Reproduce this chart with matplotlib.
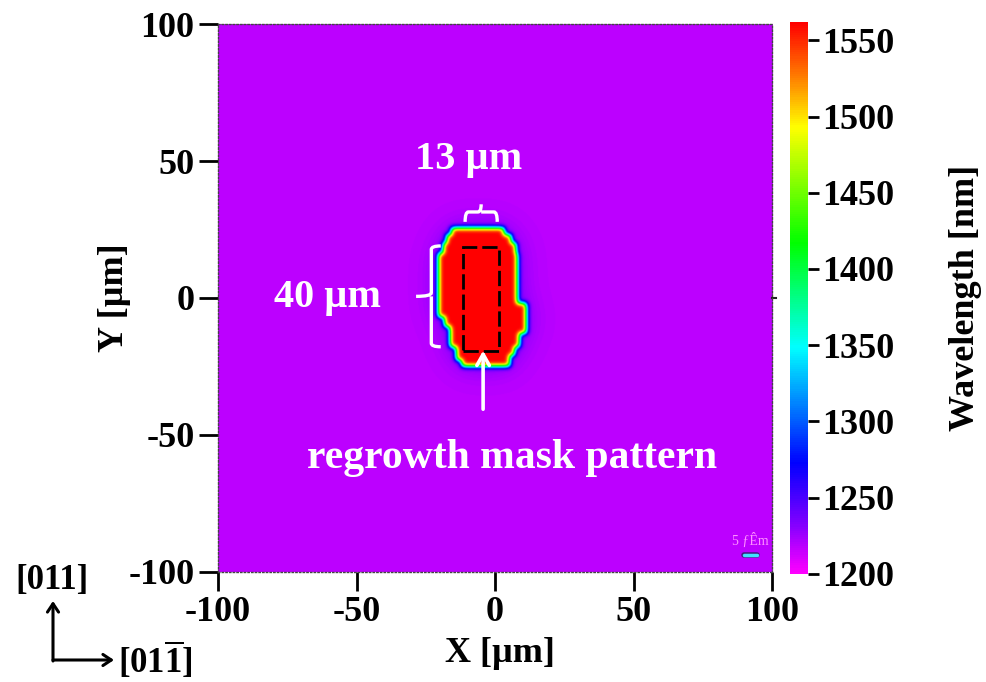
import numpy as np
import matplotlib
matplotlib.use("Agg")
import matplotlib.pyplot as plt
from matplotlib.colors import LinearSegmentedColormap
from matplotlib.path import Path
from matplotlib.patches import PathPatch, Rectangle, FancyArrowPatch
import matplotlib.patheffects as pe

plt.rcParams['font.family'] = ['Liberation Serif', 'DejaVu Serif']
plt.rcParams['font.weight'] = 'bold'
plt.rcParams['mathtext.fontset'] = 'custom'
plt.rcParams['mathtext.rm'] = 'Liberation Serif:bold'
plt.rcParams['mathtext.bf'] = 'Liberation Serif:bold'

# PL peak wavelength map [nm]
bg_wl = 1218
peak_wl = 1562
halo_wl = 18
wl_min, wl_max = 1200, 1562
cbar_ticks = [1200, 1250, 1300, 1350, 1400, 1450, 1500, 1550]
axis_ticks = [-100, -50, 0, 50, 100]

# regrown island outline, horizontal slices [um]
slice_top = [25.5, 23.0, 20.0, 16.4, -1.9, -6.8, -10.5, -12.9, -17.8, -20.9, -22.6]
slice_bot = [23.0, 20.0, 16.4, -1.9, -6.8, -10.5, -12.9, -17.8, -20.9, -22.6, -25.0]
slice_left = [-15.8, -17.6, -18.8, -20.5, -20.5, -18.3, -16.4, -16.4, -14.0, -14.0, -12.2]
slice_right = [3.2, 5.6, 7.4, 7.9, 11.0, 11.0, 11.0, 8.6, 6.8, 5.0, 5.0]

# mask pattern (13 um x 40 um)
mask_x = [-11.4, 1.4]
mask_y = [-19.2, 18.5]

# colormap nodes
cm_pos = [0.0, 0.09, 0.20, 0.41, 0.60, 0.81, 0.90, 1.0]
cm_col = ['#ff00ff', '#8000ff', '#0000ff', '#00ffff', '#00ff00', '#ffff00', '#ff8000', '#ff0000']
cmap = LinearSegmentedColormap.from_list('pl', list(zip(cm_pos, cm_col)))

# build map
step = 0.25
g = np.arange(-100, 100 + step / 2, step)
X, Y = np.meshgrid(g, g)
blob = np.zeros_like(X)
for t, b, l, r in zip(slice_top, slice_bot, slice_left, slice_right):
    blob[(Y <= t) & (Y > b) & (X >= l) & (X <= r)] = 1.0


def blur(a, sigma):
    n = int(4 * sigma / step)
    k = np.exp(-0.5 * (np.arange(-n, n + 1) * step / sigma) ** 2)
    k /= k.sum()
    a = np.apply_along_axis(lambda v: np.convolve(v, k, mode='same'), 0, a)
    a = np.apply_along_axis(lambda v: np.convolve(v, k, mode='same'), 1, a)
    return a


sharp = blur(blob, 0.9)
wide = blur(blob, 5.0)
wl = bg_wl + halo_wl * np.clip(wide * 1.5, 0, 1) * (1 - sharp) + (peak_wl - bg_wl) * sharp

fig = plt.figure(figsize=(9.86, 6.82), dpi=100)
ax = fig.add_axes([0.2211, 0.1613, 0.5619, 0.8035])
cax = fig.add_axes([0.8012, 0.1584, 0.0183, 0.8094])

im = ax.imshow(wl, extent=[-100, 100, -100, 100], origin='lower', cmap=cmap,
               vmin=wl_min, vmax=wl_max, aspect='auto', interpolation='bilinear')
ax.set_xlim(-100, 100)
ax.set_ylim(-100, 100)
ax.set_xticks(axis_ticks)
ax.set_yticks(axis_ticks)
ax.set_xticklabels([str(v) for v in axis_ticks])
ax.set_yticklabels([str(v) for v in axis_ticks])
ax.tick_params(axis='both', direction='out', length=14, width=2, labelsize=26, pad=3,
               top=False, right=False)
for s in ax.spines.values():
    s.set_linestyle(':')
    s.set_linewidth(1)
    s.set_color('#444444')
ax.set_xlabel('X [µm]', fontsize=26, fontweight='bold')
ax.set_ylabel('Y [µm]', fontsize=26, fontweight='bold')
ax.xaxis.set_label_coords(0.509, -0.118)
ax.yaxis.set_label_coords(-0.157, 0.5)
# small mark on right edge at y=0
ax.plot([1.0, 1.008], [0.5, 0.5], transform=ax.transAxes, color='#222222', lw=1.5, clip_on=False)

cb = fig.colorbar(im, cax=cax, ticks=cbar_ticks)
cb.outline.set_visible(False)
cax.tick_params(direction='out', length=8, width=2, labelsize=26, pad=2)
cb.set_label('Wavelength [nm]', fontsize=26, fontweight='bold')
cax.yaxis.set_label_coords(8.8, 0.5)

# dashed mask rectangle
ax.add_patch(Rectangle((mask_x[0], mask_y[0]), mask_x[1] - mask_x[0], mask_y[1] - mask_y[0],
                       fill=False, ec='black', lw=2, ls=(0, (5.5, 1.8))))


def brace_h(x0, x1, yb, yh, yt, r):
    xm = (x0 + x1) / 2
    verts = [(x0, yb), (x0, yh), (x0 + r, yh), (xm - r, yh), (xm, yh), (xm, yt),
             (xm, yh), (xm + r, yh), (x1 - r, yh), (x1, yh), (x1, yb)]
    codes = [Path.MOVETO, Path.CURVE3, Path.CURVE3, Path.LINETO, Path.CURVE3, Path.CURVE3,
             Path.MOVETO, Path.LINETO, Path.LINETO, Path.CURVE3, Path.CURVE3]
    return Path(verts, codes)


def brace_v(y0, y1, xe, xs, xt, r):
    ym = (y0 + y1) / 2
    verts = [(xe, y0), (xs, y0), (xs, y0 - r), (xs, ym + r), (xs, ym), (xt, ym),
             (xs, ym), (xs, ym - r), (xs, y1 + r), (xs, y1), (xe, y1)]
    codes = [Path.MOVETO, Path.CURVE3, Path.CURVE3, Path.LINETO, Path.CURVE3, Path.CURVE3,
             Path.MOVETO, Path.LINETO, Path.LINETO, Path.CURVE3, Path.CURVE3]
    return Path(verts, codes)


ax.add_patch(PathPatch(brace_h(-10.8, 0.8, 27.8, 31.4, 34.2, 1.2), fill=False, ec='white', lw=2.4))
ax.add_patch(PathPatch(brace_v(19.0, -17.8, -19.6, -23.0, -28.5, 1.3), fill=False, ec='white', lw=2.4))

ax.text(-9.7, 50.4, '13 µm', color='white', fontsize=29, fontweight='bold', ha='center', va='center')
ax.text(-60.3, 0.0, '40 µm', color='white', fontsize=29, fontweight='bold', ha='center', va='center')
ax.annotate('', xy=(-4.3, -18.2), xytext=(-4.3, -41.6),
            arrowprops=dict(arrowstyle='->,head_length=0.8,head_width=0.45', color='white', lw=2.6))
ax.text(6.1, -58.4, 'regrowth mask pattern', color='white', fontsize=30, fontweight='bold',
        ha='center', va='center')

# instrument scale bar
ax.text(92, -88.5, '5 ƒÊm', color='#ff90ff', fontsize=10, fontweight='normal', ha='center', va='center')
ax.plot([90, 94.6], [-93.8, -93.8], color='#40e0ff', lw=2.5, solid_capstyle='round',
        path_effects=[pe.Stroke(linewidth=4, foreground='#402080'), pe.Normal()])

# crystal directions
fig.text(52 / 986, 1 - 580 / 682, '[011]', fontsize=25, fontweight='bold', ha='center', va='center')
fig.text(155 / 986, 1 - 660 / 682, r'$\mathbf{[01\overline{1}]}$', fontsize=25, ha='center', va='center')
fig.add_artist(FancyArrowPatch((53 / 986, 1 - 661 / 682), (53 / 986, 1 - 601 / 682),
                               transform=fig.transFigure, arrowstyle='->,head_length=6,head_width=4',
                               color='black', lw=2.2, shrinkA=0, shrinkB=0))
fig.add_artist(FancyArrowPatch((53 / 986, 1 - 660 / 682), (114 / 986, 1 - 660 / 682),
                               transform=fig.transFigure, arrowstyle='->,head_length=6,head_width=4',
                               color='black', lw=2.2, shrinkA=0, shrinkB=0))

fig.savefig('out.png', dpi=100)
